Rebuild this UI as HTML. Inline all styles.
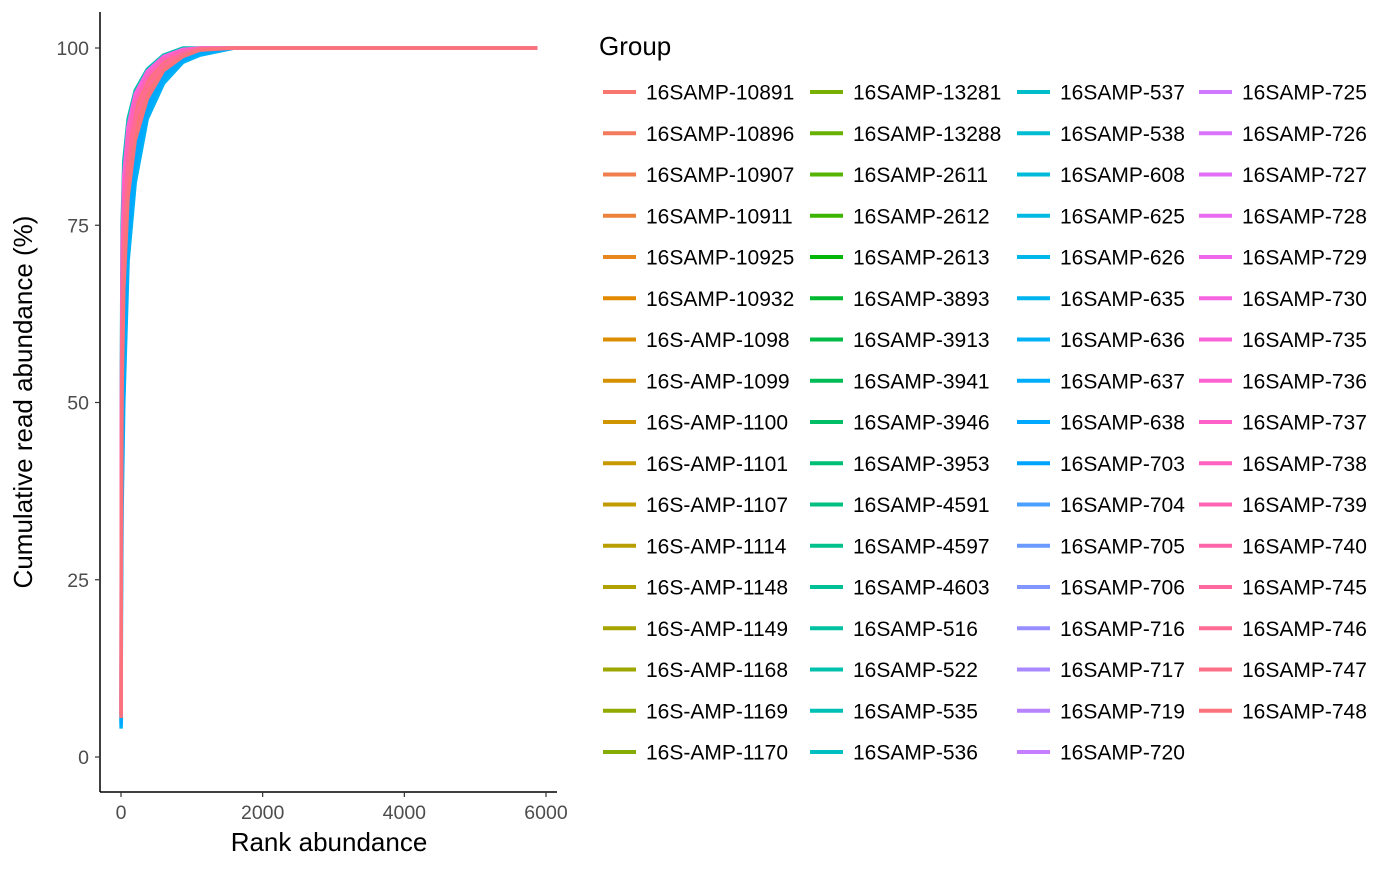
<!DOCTYPE html>
<html><head><meta charset="utf-8"><style>
body{margin:0;background:#fff;}
svg text{font-family:"Liberation Sans",sans-serif;}
</style></head><body>
<svg id="chart" width="1400" height="865" xmlns="http://www.w3.org/2000/svg">
<g id="plot"></g>
<g id="axes"></g>
<g id="legend"></g>
</svg>
<script>
const groups = ["16SAMP-10891","16SAMP-10896","16SAMP-10907","16SAMP-10911","16SAMP-10925","16SAMP-10932","16S-AMP-1098","16S-AMP-1099","16S-AMP-1100","16S-AMP-1101","16S-AMP-1107","16S-AMP-1114","16S-AMP-1148","16S-AMP-1149","16S-AMP-1168","16S-AMP-1169","16S-AMP-1170",
"16SAMP-13281","16SAMP-13288","16SAMP-2611","16SAMP-2612","16SAMP-2613","16SAMP-3893","16SAMP-3913","16SAMP-3941","16SAMP-3946","16SAMP-3953","16SAMP-4591","16SAMP-4597","16SAMP-4603","16SAMP-516","16SAMP-522","16SAMP-535","16SAMP-536",
"16SAMP-537","16SAMP-538","16SAMP-608","16SAMP-625","16SAMP-626","16SAMP-635","16SAMP-636","16SAMP-637","16SAMP-638","16SAMP-703","16SAMP-704","16SAMP-705","16SAMP-706","16SAMP-716","16SAMP-717","16SAMP-719","16SAMP-720",
"16SAMP-725","16SAMP-726","16SAMP-727","16SAMP-728","16SAMP-729","16SAMP-730","16SAMP-735","16SAMP-736","16SAMP-737","16SAMP-738","16SAMP-739","16SAMP-740","16SAMP-745","16SAMP-746","16SAMP-747","16SAMP-748"];
const xTicks = [0,2000,4000,6000];
const yTicks = [0,25,50,75,100];
const ranks = [1,5,15,40,100,200,370,600,875,1115,1600,5880];
const curveGroups = ["16SAMP-636","16SAMP-535","16SAMP-638","16SAMP-735","16SAMP-739","16SAMP-746","16SAMP-748"];
const curveBlue636 = [4,20,35,50,70,81,90,95,98,99,100,100];
const curveCyan535 = [5,55,75,84,90,94,97,99,100,100,100,100];
const curveBlue638 = [4.5,24,40,56,73,83.5,91,95.8,98.3,99.3,100,100];
const curvePink735 = [6,50,72,82,89,93.5,96.7,98.8,99.8,100,100,100];
const curvePink739 = [6,46,67,79,87.5,92.5,96,98.5,99.6,100,100,100];
const curveSal746 = [6,40,60,73,84,90,94.5,97.6,99.2,99.9,100,100];
const curveSal748 = [5.5,32,52,66,79,87,92.8,96.8,98.8,99.7,100,100];
const curveValues = [curveBlue636,curveCyan535,curveBlue638,curvePink735,curvePink739,curveSal746,curveSal748];

function hcl(h){const L=65,C=100;const hr=h*Math.PI/180;const u=C*Math.cos(hr),v=C*Math.sin(hr);
const Xn=95.047,Yn=100,Zn=108.883;const Y=Yn*Math.pow((L+16)/116,3);
const un=4*Xn/(Xn+15*Yn+3*Zn),vn=9*Yn/(Xn+15*Yn+3*Zn);
const up=u/(13*L)+un,vp=v/(13*L)+vn;const X=Y*9*up/(4*vp),Z=Y*(12-3*up-20*vp)/(4*vp);
const x=X/100,y=Y/100,z=Z/100;
let r=3.2404542*x-1.5371385*y-0.4985314*z,g=-0.9692660*x+1.8760108*y+0.0415560*z,b=0.0556434*x-0.2040259*y+1.0572252*z;
const gm=c=>{c=c<=0.0031308?12.92*c:1.055*Math.pow(c,1/2.4)-0.055;return Math.round(Math.max(0,Math.min(1,c))*255);};
return `rgb(${gm(r)},${gm(g)},${gm(b)})`;}
const nGroups=groups.length;
const colorOf=g=>hcl(15+360*groups.indexOf(g)/nGroups);

const NS="http://www.w3.org/2000/svg";
function mk(tag,attrs,parent){const e=document.createElementNS(NS,tag);for(const k in attrs)e.setAttribute(k,attrs[k]);parent.appendChild(e);return e;}
const xs=v=>121+v*(546-121)/6000;
const ys=v=>757-v*(757-48)/100;
const plotG=document.getElementById('plot'),axesG=document.getElementById('axes'),legendG=document.getElementById('legend');

const bandTop=ranks.map((r,i)=>(i?'L':'M')+xs(r).toFixed(1)+','+ys(curveCyan535[i]).toFixed(1)).join(' ');
const bandBot=ranks.map((r,i)=>i).reverse().map(i=>'L'+xs(ranks[i]).toFixed(1)+','+ys(curveBlue636[i]).toFixed(1)).join(' ');
const band=mk('path',{d:bandTop+' '+bandBot+'Z',fill:'#00a9ff'},plotG);


const pinkTop=ranks.map((r,i)=>(i?'L':'M')+xs(r).toFixed(1)+','+ys(curvePink735[i]).toFixed(1)).join(' ');
const pinkBot=ranks.map((r,i)=>i).reverse().map(i=>'L'+xs(ranks[i]).toFixed(1)+','+ys(curveSal748[i]).toFixed(1)).join(' ');
const band2=mk('path',{d:pinkTop+' '+pinkBot+'Z',fill:'#fb737a'},plotG);


curveValues.forEach((vals,k)=>{
  const d=ranks.map((r,i)=>(i?'L':'M')+xs(r).toFixed(1)+','+ys(vals[i]).toFixed(1)).join(' ');
  const p=mk('path',{d:d,fill:'none',stroke:colorOf(curveGroups[k]),'stroke-width':3.5,'stroke-linejoin':'round'},plotG);
  
  
});

mk('line',{x1:100,y1:12,x2:100,y2:792,stroke:'#000','stroke-width':1.5},axesG);
mk('line',{x1:100,y1:792,x2:557,y2:792,stroke:'#000','stroke-width':1.5},axesG);
yTicks.forEach(t=>{mk('line',{x1:95,x2:100,y1:ys(t),y2:ys(t),stroke:'#333','stroke-width':1.2},axesG);
 const tx=mk('text',{x:89,y:ys(t)+7,'text-anchor':'end','font-size':19.5,fill:'#4d4d4d'},axesG);tx.textContent=t;
 
 });
xTicks.forEach(t=>{mk('line',{x1:xs(t),x2:xs(t),y1:792,y2:797,stroke:'#333','stroke-width':1.2},axesG);
 const tx=mk('text',{x:xs(t),y:819,'text-anchor':'middle','font-size':19.5,fill:'#4d4d4d'},axesG);tx.textContent=t;
 
 });
const xt=mk('text',{x:329,y:851,'text-anchor':'middle','font-size':26},axesG);xt.textContent='Rank abundance';


const yt=mk('text',{x:0,y:0,'text-anchor':'middle','font-size':26,transform:'translate(32,402) rotate(-90)'},axesG);yt.textContent='Cumulative read abundance (%)';



const lt=mk('text',{x:599,y:55,'font-size':26},legendG);lt.textContent='Group';


const colX=[603,810,1017,1199];
groups.forEach((g,i)=>{const c=Math.floor(i/17),r=i%17;const y=92+r*41.25;
 const ge=mk('g',{},legendG);
 
 
 mk('line',{x1:colX[c],x2:colX[c]+33,y1:y,y2:y,stroke:hcl(15+360*i/nGroups),'stroke-width':4},ge);
 const t=mk('text',{x:colX[c]+43,y:y+7.5,'font-size':21},ge);t.textContent=g;});
</script>
</body></html>
